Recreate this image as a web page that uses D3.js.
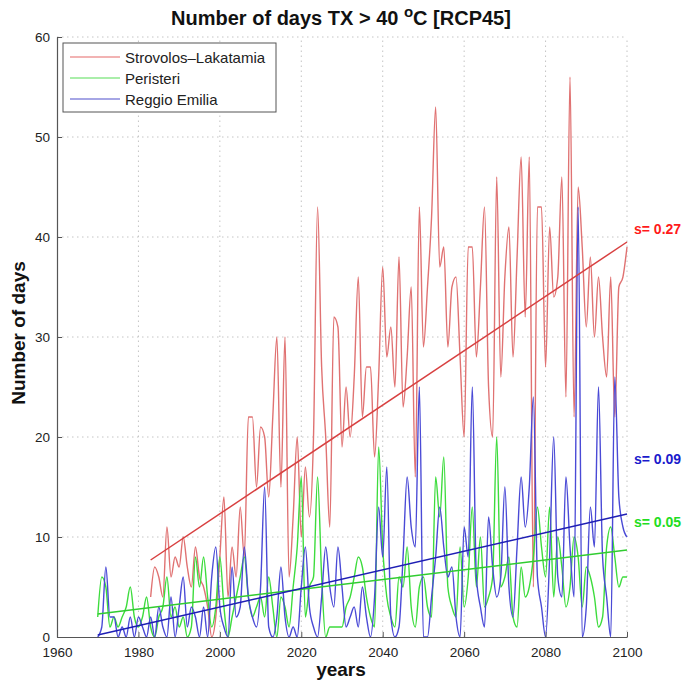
<!DOCTYPE html>
<html><head><meta charset="utf-8">
<script src="https://cdn.jsdelivr.net/npm/d3@7"></script>
<style>body{margin:0;background:#fff}svg{display:block}</style>
</head><body>
<script>
const startRed = 1983, startOther = 1970, endYear = 2100;
const redVals = [4,7,6,4,11,6,8,7,10,7, 5,9,6,5,3,0,2,8,14,4, 9,6,13,8,22,22,15,21,20,14, 22,30,15,30,6,12,20,10,17,12, 20,43,27,20,11,32,31,19,25,20, 26,36,22,27,27,18,26,37,28,31, 25,38,23,28,35,16,43,29,35,42, 53,37,39,29,35,36,28,20,39,39, 28,35,43,25,20,46,26,36,41,28, 38,48,32,48,5,43,43,27,41,34, 36,46,24,56,22,45,39,31,38,30, 36,30,26,36,22,35,36,39];
const greenVals = [2,6,5,1,2,1,2,3,5,2,1,2,4,1,0,2,3,6,2,3,1,2,0,1,8,5,8,4,1,3,8,3,0,2,4,6,8,4,2,3,4,2,6,3,0,4,3,1,5,9,16,2,5,6,16,6,0,1,1,1,1,3,4,6,8,7,4,2,1,19,9,4,2,1,6,5,9,3,1,5,6,3,2,16,12,18,5,3,2,9,3,6,13,5,10,3,4,6,20,5,6,8,2,1,7,4,5,8,13,9,6,13,4,10,7,3,5,10,8,3,7,6,4,1,2,9,11,8,5,6,6];
const blueVals = [0,1,7,2,2,0,1,0,2,0,2,1,0,2,0,3,1,0,4,0,3,6,1,3,2,0,3,0,6,9,3,1,0,7,2,3,9,4,2,1,5,15,1,0,2,7,2,0,1,0,5,9,3,1,0,4,9,5,3,9,5,1,2,3,1,5,2,0,4,13,8,17,2,0,1,8,16,11,9,25,0,0,4,8,13,9,6,7,2,0,11,8,25,6,3,1,12,7,4,6,15,5,2,9,16,11,15,24,6,3,0,8,20,6,4,16,9,4,43,0,3,13,9,25,8,4,0,26,14,11,10];
// linear trend values at first and last year of each series
const redTrend = [7.7, 39.5];
const greenTrend = [2.3, 8.7];
const blueTrend = [0.2, 12.3];
const seriesNames = ["Strovolos\u2013Lakatamia","Peristeri","Reggio Emilia"];
const slopeLabels = ["s= 0.27","s= 0.05","s= 0.09"];
const xTicks = [1960,1980,2000,2020,2040,2060,2080,2100];
const yTicks = [0,10,20,30,40,50,60];

const W=682,H=682, m={l:57,r:55,t:37,b:45};
const svg=d3.select("body").append("svg").attr("width",W).attr("height",H);
const x=d3.scaleLinear().domain([1960,2100]).range([m.l,W-m.r]);
const y=d3.scaleLinear().domain([0,60]).range([H-m.b,m.t]);
const font="'Liberation Sans', Arial, Helvetica, sans-serif";

const toPts=(vals,s)=>vals.map((v,i)=>({yr:s+i,v}));
const red=toPts(redVals,startRed), green=toPts(greenVals,startOther), blue=toPts(blueVals,startOther);

// grid
const g=svg.append("g");
g.selectAll(".gx").data(xTicks.slice(1)).enter().append("line")
 .attr("x1",d=>x(d)).attr("x2",d=>x(d)).attr("y1",y(0)).attr("y2",y(60))
 .attr("stroke","#c4c4c4").attr("stroke-dasharray","1.5,3.5");
g.selectAll(".gy").data(yTicks.slice(1)).enter().append("line")
 .attr("x1",x(1960)).attr("x2",x(2100)).attr("y1",d=>y(d)).attr("y2",d=>y(d))
 .attr("stroke","#c4c4c4").attr("stroke-dasharray","1.5,3.5");

const line=d3.line().x(d=>x(d.yr)).y(d=>y(d.v)).curve(d3.curveMonotoneX);
const tline=d3.line().x(d=>x(d.yr)).y(d=>y(d.v));

const series=[
 {pts:red,trend:redTrend,s0:startRed,c:"#e07272",tc:"#d84040",lc:"#ff1a1a",lab:slopeLabels[0],dy:-8},
 {pts:green,trend:greenTrend,s0:startOther,c:"#3ddc3d",tc:"#30cc30",lc:"#22dd22",lab:slopeLabels[1],dy:-23},
 {pts:blue,trend:blueTrend,s0:startOther,c:"#4a4ad6",tc:"#1e1eb4",lc:"#1a1acc",lab:slopeLabels[2],dy:-50}];
series.forEach(s=>{svg.append("path").datum(s.pts).attr("d",line).attr("fill","none").attr("stroke",s.c).attr("stroke-width",1.4).attr("stroke-linejoin","round");});
series.forEach(s=>{
 const tp=[{yr:s.s0,v:s.trend[0]},{yr:endYear,v:s.trend[1]}];
 svg.append("path").datum(tp).attr("d",tline).attr("fill","none").attr("stroke",s.tc).attr("stroke-width",1.5);
 svg.append("text").attr("x",x(endYear)+7).attr("y",y(s.trend[1])+s.dy).attr("fill",s.lc).attr("font-family",font).attr("font-weight","bold").attr("font-size",14).text(s.lab);
});

// axes
const ax=svg.append("g").attr("transform",`translate(0,${y(0)})`).call(d3.axisBottom(x).tickValues(xTicks).tickFormat(d3.format("d")).tickSizeInner(-5).tickSizeOuter(0).tickPadding(10.5));
const ay=svg.append("g").attr("transform",`translate(${x(1960)},0)`).call(d3.axisLeft(y).tickValues(yTicks).tickSizeInner(-5).tickSizeOuter(0).tickPadding(7));
[ax,ay].forEach(a=>{a.select(".domain").attr("stroke","#555").attr("stroke-width",1.2);a.selectAll(".tick line").attr("stroke","#555");a.selectAll("text").attr("font-family",font).attr("font-size",13.5).attr("fill","#222");});

// titles
const t=svg.append("text").attr("x",341).attr("y",25).attr("text-anchor","middle").attr("font-family",font).attr("font-weight","bold").attr("font-size",20).attr("fill","#111");
t.append("tspan").text("Number of days TX > 40 ");
t.append("tspan").attr("dy",-8).attr("font-size",15).text("o");
t.append("tspan").attr("dy",8).text("C [RCP45]");
svg.append("text").attr("x",341).attr("y",676).attr("text-anchor","middle").attr("font-family",font).attr("font-weight","bold").attr("font-size",19).attr("fill","#111").text("years");
svg.append("text").attr("transform","translate(25,333) rotate(-90)").attr("text-anchor","middle").attr("font-family",font).attr("font-weight","bold").attr("font-size",19).attr("fill","#111").text("Number of days");

// legend
const lg=svg.append("g");
lg.append("rect").attr("x",63).attr("y",43).attr("width",213).attr("height",69).attr("fill","#fff").attr("stroke","#555").attr("stroke-width",1);
const legCols=["#ee9a9a","#8ee88e","#8888dd"];
seriesNames.forEach((n,i)=>{const yy=57+i*21;
 lg.append("line").attr("x1",70).attr("x2",120).attr("y1",yy).attr("y2",yy).attr("stroke",legCols[i]).attr("stroke-width",1.4);
 lg.append("text").attr("x",125).attr("y",yy+5.5).attr("font-family",font).attr("font-size",15).attr("fill","#222").text(n);});
</script>
</body></html>
